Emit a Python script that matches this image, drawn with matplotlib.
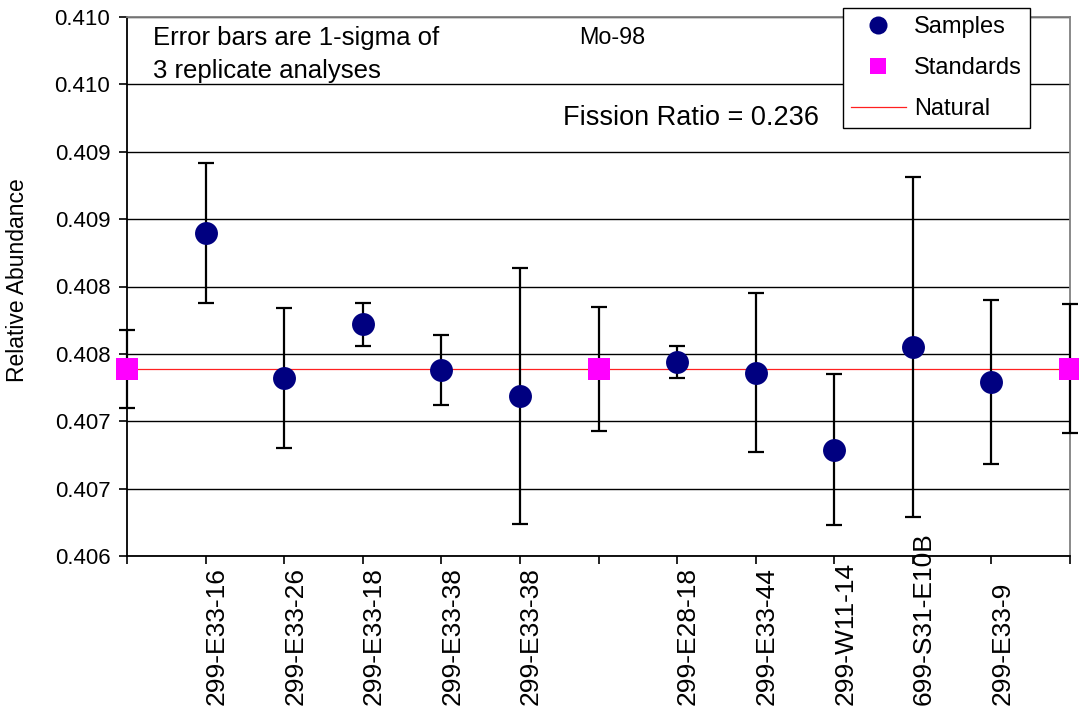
import matplotlib
matplotlib.use("Agg")
import matplotlib.pyplot as plt
import matplotlib.transforms as mtransforms
from matplotlib.ticker import FormatStrFormatter
from matplotlib.lines import Line2D

plt.rcParams['font.family'] = ['Liberation Sans', 'DejaVu Sans']

# Mo-98 relative abundance, mean of 3 replicate analyses with 1-sigma errors
positions = list(range(13))
tick_names = ['', '299-E33-16', '299-E33-26', '299-E33-18', '299-E33-38', '299-E33-38',
              '', '299-E28-18', '299-E33-44', '299-W11-14', '699-S31-E10B', '299-E33-9', '']

sample_x = [1, 2, 3, 4, 5, 7, 8, 9, 10, 11]
sample_y = [0.40840, 0.40732, 0.40772, 0.40738, 0.40719,
            0.40744, 0.40736, 0.40679, 0.40755, 0.40729]
sample_err = [0.00052, 0.00052, 0.00016, 0.00026, 0.00095,
              0.00012, 0.00059, 0.00056, 0.00126, 0.00061]

std_x = [0, 6, 12]
std_y = [0.40739, 0.40739, 0.40739]
std_err = [0.00029, 0.00046, 0.00048]

natural = 0.40739
fission_ratio = 0.236

fig = plt.figure(figsize=(10.79, 7.12), dpi=100)
W, H = 1079, 712
ax = fig.add_axes([127 / W, 1 - 556 / H, (1070 - 127) / W, (556 - 17) / H])

ax.set_xlim(0, 12)
ax.set_ylim(0.406, 0.410)
ax.set_yticks([0.406 + 0.0005 * i for i in range(9)])
ax.yaxis.set_major_formatter(FormatStrFormatter('%.3f'))
ax.grid(axis='y', color='black', linewidth=1.0)
ax.set_axisbelow(True)

ax.axhline(natural, color='#ff2020', linewidth=0.9, zorder=2)

ax.errorbar(sample_x, sample_y, yerr=sample_err, fmt='none', ecolor='black',
            elinewidth=1.6, capsize=6, capthick=1.6, zorder=3, clip_on=False)
ax.errorbar(std_x, std_y, yerr=std_err, fmt='none', ecolor='black',
            elinewidth=1.6, capsize=6, capthick=1.6, zorder=3, clip_on=False)
ax.plot(sample_x, sample_y, 'o', color='#000080', markersize=16.5,
        markeredgewidth=0, zorder=4)
ax.plot(std_x, std_y, 's', color='#ff00ff', markersize=15.5,
        markeredgewidth=0, zorder=4, clip_on=False)

# spines: dark left/bottom, grey frame on top/right
for side in ['left', 'bottom']:
    ax.spines[side].set_color('black')
    ax.spines[side].set_linewidth(1.3)
for side in ['top', 'right']:
    ax.spines[side].set_color('#808080')
    ax.spines[side].set_linewidth(1.3)

ax.tick_params(axis='y', direction='out', length=6, width=1.2, labelsize=16, pad=6)
ax.tick_params(axis='x', direction='out', length=6, width=1.2, labelsize=19, pad=101)
ax.set_xticks(positions)
ax.set_xticklabels(tick_names, rotation=90, va='bottom', ha='center')
shift = mtransforms.ScaledTranslation(11 / 100, 0, fig.dpi_scale_trans)
for lab in ax.get_xticklabels():
    lab.set_transform(lab.get_transform() + shift)

fig.text(18 / W, 1 - 280 / H, 'Relative Abundance', rotation=90,
         ha='center', va='center', fontsize=16.5)

fig.text(153 / W, 1 - 38 / H, 'Error bars are 1-sigma of', fontsize=18.5,
         ha='left', va='center')
fig.text(153 / W, 1 - 71 / H, '3 replicate analyses', fontsize=18.5,
         ha='left', va='center')
fig.text(579 / W, 1 - 37 / H, 'Mo-98', fontsize=16.8, ha='left', va='center')
fig.text(563 / W, 1 - 118 / H, f'Fission Ratio = {fission_ratio}', fontsize=19.5,
         ha='left', va='center')

handles = [
    Line2D([], [], marker='o', linestyle='none', color='#000080', markersize=13,
           markeredgewidth=0),
    Line2D([], [], marker='s', linestyle='none', color='#ff00ff', markersize=12,
           markeredgewidth=0),
    Line2D([], [], color='#ff2020', linewidth=0.9),
]
leg = fig.legend(handles, ['Samples', 'Standards', 'Natural'],
                 loc='upper left', bbox_to_anchor=(843 / W, 1 - 8 / H),
                 fontsize=17, frameon=True, fancybox=False, framealpha=1,
                 edgecolor='black', borderpad=0.35, labelspacing=0.8,
                 handlelength=2.3, handletextpad=0.35, borderaxespad=0)
leg.get_frame().set_linewidth(1.0)
leg.set_zorder(10)

fig.savefig('out.png', dpi=100)
